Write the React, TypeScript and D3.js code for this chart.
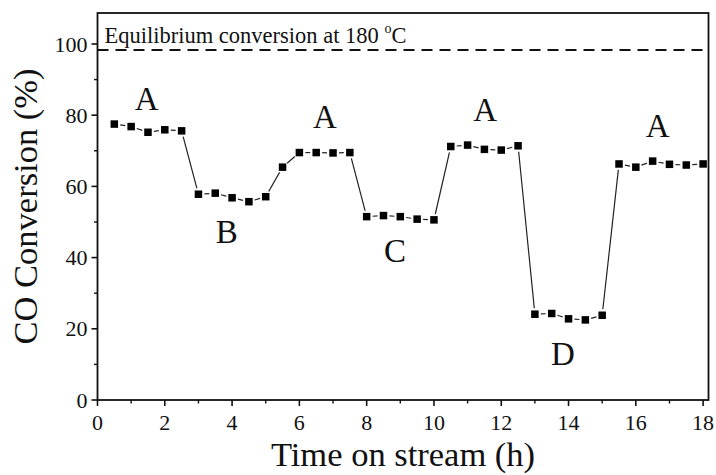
import React, { useEffect, useRef } from "react";
import * as d3 from "d3";

// time on stream (h) and CO conversion (%)
const hours = [
  0.5, 1, 1.5, 2, 2.5, 3, 3.5, 4, 4.5, 5, 5.5, 6, 6.5, 7, 7.5, 8, 8.5, 9,
  9.5, 10, 10.5, 11, 11.5, 12, 12.5, 13, 13.5, 14, 14.5, 15, 15.5, 16, 16.5,
  17, 17.5, 18,
];
const conversion = [
  77.5, 76.8, 75.2, 75.9, 75.6, 57.8, 58.1, 56.8, 55.7, 57.1, 65.4, 69.5,
  69.5, 69.4, 69.5, 51.5, 51.8, 51.5, 50.8, 50.6, 71.2, 71.6, 70.4, 70.2,
  71.4, 24.1, 24.3, 22.8, 22.5, 23.8, 66.3, 65.4, 67.1, 66.2, 66.0, 66.3,
];

const xTicks = [0, 2, 4, 6, 8, 10, 12, 14, 16, 18];
const xMinor = [1, 3, 5, 7, 9, 11, 13, 15, 17];
const yTicks = [0, 20, 40, 60, 80, 100];
const yMinor = [10, 30, 50, 70, 90];

const equilibrium = 98.3;

// condition labels: text, x (h), y (%)
const labelText = ["A", "B", "A", "C", "A", "D", "A"];
const labelX = [1.46, 3.84, 6.76, 8.84, 11.52, 13.83, 16.65];
const labelY = [84.7, 47.3, 79.6, 42.1, 81.5, 13.1, 77.2];

const FONT = "'Liberation Serif', 'Times New Roman', serif";

const Chart: React.FC = () => {
  const ref = useRef<SVGSVGElement | null>(null);

  useEffect(() => {
    document.body.style.margin = "0";
    const width = 716;
    const height = 475;
    const left = 97.5;
    const right = 708.5;
    const top = 13;
    const bottom = 400;

    const svg = d3.select(ref.current);
    svg.selectAll("*").remove();
    svg.attr("width", width).attr("height", height);

    const x = d3.scaleLinear().domain([0, 18.16]).range([left, right]);
    const y = d3.scaleLinear().domain([0, 108.7]).range([bottom, top]);

    // frame
    svg
      .append("rect")
      .attr("x", left)
      .attr("y", top)
      .attr("width", right - left)
      .attr("height", bottom - top)
      .attr("fill", "none")
      .attr("stroke", "#111")
      .attr("stroke-width", 1.8);

    // x axis ticks
    const g = svg.append("g").attr("fill", "#111").style("font-family", FONT);
    g.selectAll("line.xmaj")
      .data(xTicks)
      .enter()
      .append("line")
      .attr("x1", (d) => x(d))
      .attr("x2", (d) => x(d))
      .attr("y1", bottom)
      .attr("y2", bottom + 6)
      .attr("stroke", "#111")
      .attr("stroke-width", 1.6);
    g.selectAll("line.xmin")
      .data(xMinor)
      .enter()
      .append("line")
      .attr("x1", (d) => x(d))
      .attr("x2", (d) => x(d))
      .attr("y1", bottom)
      .attr("y2", bottom + 3.5)
      .attr("stroke", "#111")
      .attr("stroke-width", 1.4);
    g.selectAll("text.xl")
      .data(xTicks)
      .enter()
      .append("text")
      .attr("x", (d) => x(d))
      .attr("y", 430)
      .attr("text-anchor", "middle")
      .style("font-size", "22px")
      .text((d) => d);

    // y axis ticks
    g.selectAll("line.ymaj")
      .data(yTicks)
      .enter()
      .append("line")
      .attr("x1", left - 6)
      .attr("x2", left)
      .attr("y1", (d) => y(d))
      .attr("y2", (d) => y(d))
      .attr("stroke", "#111")
      .attr("stroke-width", 1.6);
    g.selectAll("line.ymin")
      .data(yMinor)
      .enter()
      .append("line")
      .attr("x1", left - 3.5)
      .attr("x2", left)
      .attr("y1", (d) => y(d))
      .attr("y2", (d) => y(d))
      .attr("stroke", "#111")
      .attr("stroke-width", 1.4);
    g.selectAll("text.yl")
      .data(yTicks)
      .enter()
      .append("text")
      .attr("x", left - 10)
      .attr("y", (d) => y(d))
      .attr("dy", "0.35em")
      .attr("text-anchor", "end")
      .style("font-size", "22px")
      .text((d) => d);

    // axis titles
    g.append("text")
      .attr("x", (left + right) / 2)
      .attr("y", 466)
      .attr("text-anchor", "middle")
      .style("font-size", "34.5px")
      .text("Time on stream (h)");
    g.append("text")
      .attr("transform", `translate(37, ${(top + bottom) / 2}) rotate(-90)`)
      .attr("text-anchor", "middle")
      .style("font-size", "34.5px")
      .text("CO Conversion (%)");

    // equilibrium line
    svg
      .append("line")
      .attr("x1", left)
      .attr("x2", right)
      .attr("y1", y(equilibrium))
      .attr("y2", y(equilibrium))
      .attr("stroke", "#111")
      .attr("stroke-width", 2)
      .attr("stroke-dasharray", "11,7");
    const eq = g
      .append("text")
      .attr("x", left + 7)
      .attr("y", 43)
      .style("font-size", "22.5px");
    eq.append("tspan").text("Equilibrium conversion at 180 ");
    eq.append("tspan").attr("dy", -10).style("font-size", "14px").text("o");
    eq.append("tspan").attr("dy", 10).text("C");

    // connecting line with a gap around each symbol
    const pts = hours.map((h, i) => [x(h), y(conversion[i])]);
    const gap = 6;
    for (let i = 0; i < pts.length - 1; i++) {
      const [x1, y1] = pts[i];
      const [x2, y2] = pts[i + 1];
      const len = Math.hypot(x2 - x1, y2 - y1);
      if (len <= gap * 2) continue;
      const ux = (x2 - x1) / len;
      const uy = (y2 - y1) / len;
      svg
        .append("line")
        .attr("x1", x1 + ux * gap)
        .attr("y1", y1 + uy * gap)
        .attr("x2", x2 - ux * gap)
        .attr("y2", y2 - uy * gap)
        .attr("stroke", "#222")
        .attr("stroke-width", 1.2);
    }

    const size = 7.5;
    svg
      .selectAll("rect.pt")
      .data(hours)
      .enter()
      .append("rect")
      .attr("x", (d) => x(d) - size / 2)
      .attr("y", (_d, i) => y(conversion[i]) - size / 2)
      .attr("width", size)
      .attr("height", size)
      .attr("fill", "#000");

    // condition labels
    g.selectAll("text.lab")
      .data(labelText)
      .enter()
      .append("text")
      .attr("x", (_d, i) => x(labelX[i]))
      .attr("y", (_d, i) => y(labelY[i]))
      .attr("dy", "0.35em")
      .attr("text-anchor", "middle")
      .style("font-size", "33px")
      .text((d) => d);
  }, []);

  return <svg ref={ref} />;
};

export default function App() {
  return <Chart />;
}
